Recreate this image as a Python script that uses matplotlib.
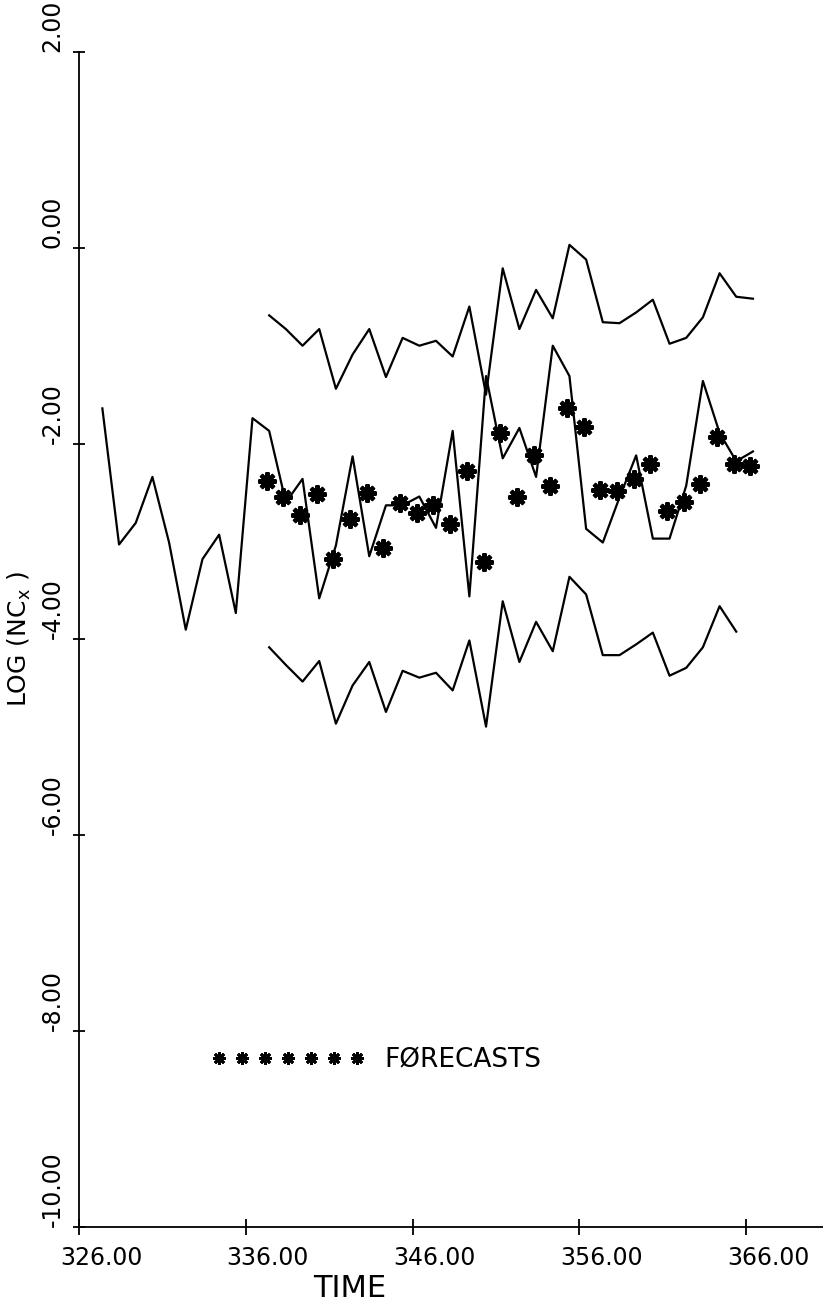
#!/usr/bin/env python3
"""Log(NCx) series with forecasts and upper/lower bands, pen-plotter style."""
import numpy as np
import matplotlib
matplotlib.use("Agg")
import matplotlib.pyplot as plt
from matplotlib import font_manager
from matplotlib.legend_handler import HandlerLine2D
from matplotlib.transforms import ScaledTranslation

# observed series, one value per time step starting at 327.4
observed = [-1.64, -3.03, -2.81, -2.34, -3.01, -3.90, -3.18, -2.93, -3.73, -1.74,
            -1.87, -2.60, -2.36, -3.58, -3.04, -2.13, -3.15, -2.63, -2.63, -2.54,
            -2.86, -1.87, -3.56, -1.31, -2.15, -1.84, -2.34, -1.00, -1.31, -2.87,
            -3.01, -2.55, -2.12, -2.97, -2.97, -2.43, -1.36, -1.89, -2.18, -2.08]
time_obs = np.arange(len(observed)) + 327.4

# forecasts start at the 11th time step
forecasts = [-2.38, -2.55, -2.73, -2.51, -3.18, -2.77, -2.50, -3.07, -2.61, -2.71,
             -2.63, -2.82, -2.28, -3.21, -1.89, -2.54, -2.12, -2.43, -1.64, -1.83,
             -2.47, -2.48, -2.36, -2.21, -2.69, -2.60, -2.41, -1.93, -2.21, -2.23]
time_fc = time_obs[10:10 + len(forecasts)] - 0.15

upper = [-0.69, -0.83, -1.00, -0.83, -1.44, -1.09, -0.83, -1.32, -0.92, -1.00,
         -0.95, -1.11, -0.60, -1.50, -0.21, -0.83, -0.43, -0.72, 0.03, -0.12,
         -0.76, -0.77, -0.66, -0.53, -0.98, -0.92, -0.71, -0.26, -0.50, -0.52]
time_up = time_obs[10:10 + len(upper)]

lower = [-4.08, -4.26, -4.43, -4.22, -4.86, -4.47, -4.23, -4.74, -4.32, -4.39,
         -4.34, -4.52, -4.01, -4.89, -3.61, -4.23, -3.82, -4.12, -3.36, -3.54,
         -4.16, -4.16, -4.05, -3.93, -4.37, -4.29, -4.08, -3.66, -3.92]
time_lo = time_obs[10:10 + len(lower)]

xticks = [326, 336, 346, 356, 366]
yticks = [-10, -8, -6, -4, -2, 0, 2]

available = {f.name for f in font_manager.fontManager.ttflist}
if "Liberation Sans Narrow" in available:
    FONT, FS = "Liberation Sans Narrow", 22
else:
    FONT, FS = "DejaVu Sans", 17
plt.rcParams["font.family"] = [FONT, "DejaVu Sans"]
plt.rcParams["font.size"] = FS


def thin_marker(handle, orig):
    handle.update_from(orig)
    handle.set_markeredgewidth(2.0)


def main():
    fig = plt.figure(figsize=(8.23, 13.12), dpi=100)
    ax = fig.add_axes([0.096, 0.0648, 0.904, 0.8956])

    ax.plot(time_obs, observed, color="black", lw=1.6)
    ax.plot(time_up, upper, color="black", lw=1.6)
    ax.plot(time_lo, lower, color="black", lw=1.6)
    fc_line, = ax.plot(time_fc, forecasts, ls="none", marker=(8, 2, 0), ms=13,
                       mew=3.0, color="black", label="FØRECASTS")

    ax.set_xlim(326, 370.6)
    ax.set_ylim(-10, 2)
    for side in ("top", "right"):
        ax.spines[side].set_visible(False)
    for side in ("left", "bottom"):
        ax.spines[side].set_linewidth(1.3)

    ax.set_xticks(xticks, [f"{v:.2f}" for v in xticks])
    ax.set_yticks(yticks, [f"{v:.2f}" for v in yticks])
    ax.tick_params(axis="x", direction="inout", length=12, width=1.3, pad=8)
    ax.tick_params(axis="y", direction="inout", length=9, width=1.3, pad=6)

    shift = ScaledTranslation(22 / 100, 0, fig.dpi_scale_trans)
    for lbl in ax.get_xticklabels():
        lbl.set_transform(lbl.get_transform() + shift)
    for lbl in ax.get_yticklabels():
        lbl.set_rotation(90)
        lbl.set_rotation_mode("anchor")
        lbl.set_horizontalalignment("left")
        lbl.set_verticalalignment("bottom")

    ax.set_xlabel("TIME", fontsize=FS + 5)
    ax.xaxis.set_label_coords(0.364, -0.040)
    ax.set_ylabel("LOG (NC$_\\mathregular{x}$ )", fontsize=FS + 1)
    ax.yaxis.set_label_coords(-0.062, 0.5)

    ax.legend(loc="center left", bbox_to_anchor=(0.178, 0.142), frameon=False,
              numpoints=7, markerscale=0.7, handlelength=5.83, handletextpad=0.72,
              borderpad=0, borderaxespad=0, fontsize=FS + 2,
              handler_map={fc_line: HandlerLine2D(update_func=thin_marker)})

    fig.savefig("out.png", dpi=100)


if __name__ == "__main__":
    main()
